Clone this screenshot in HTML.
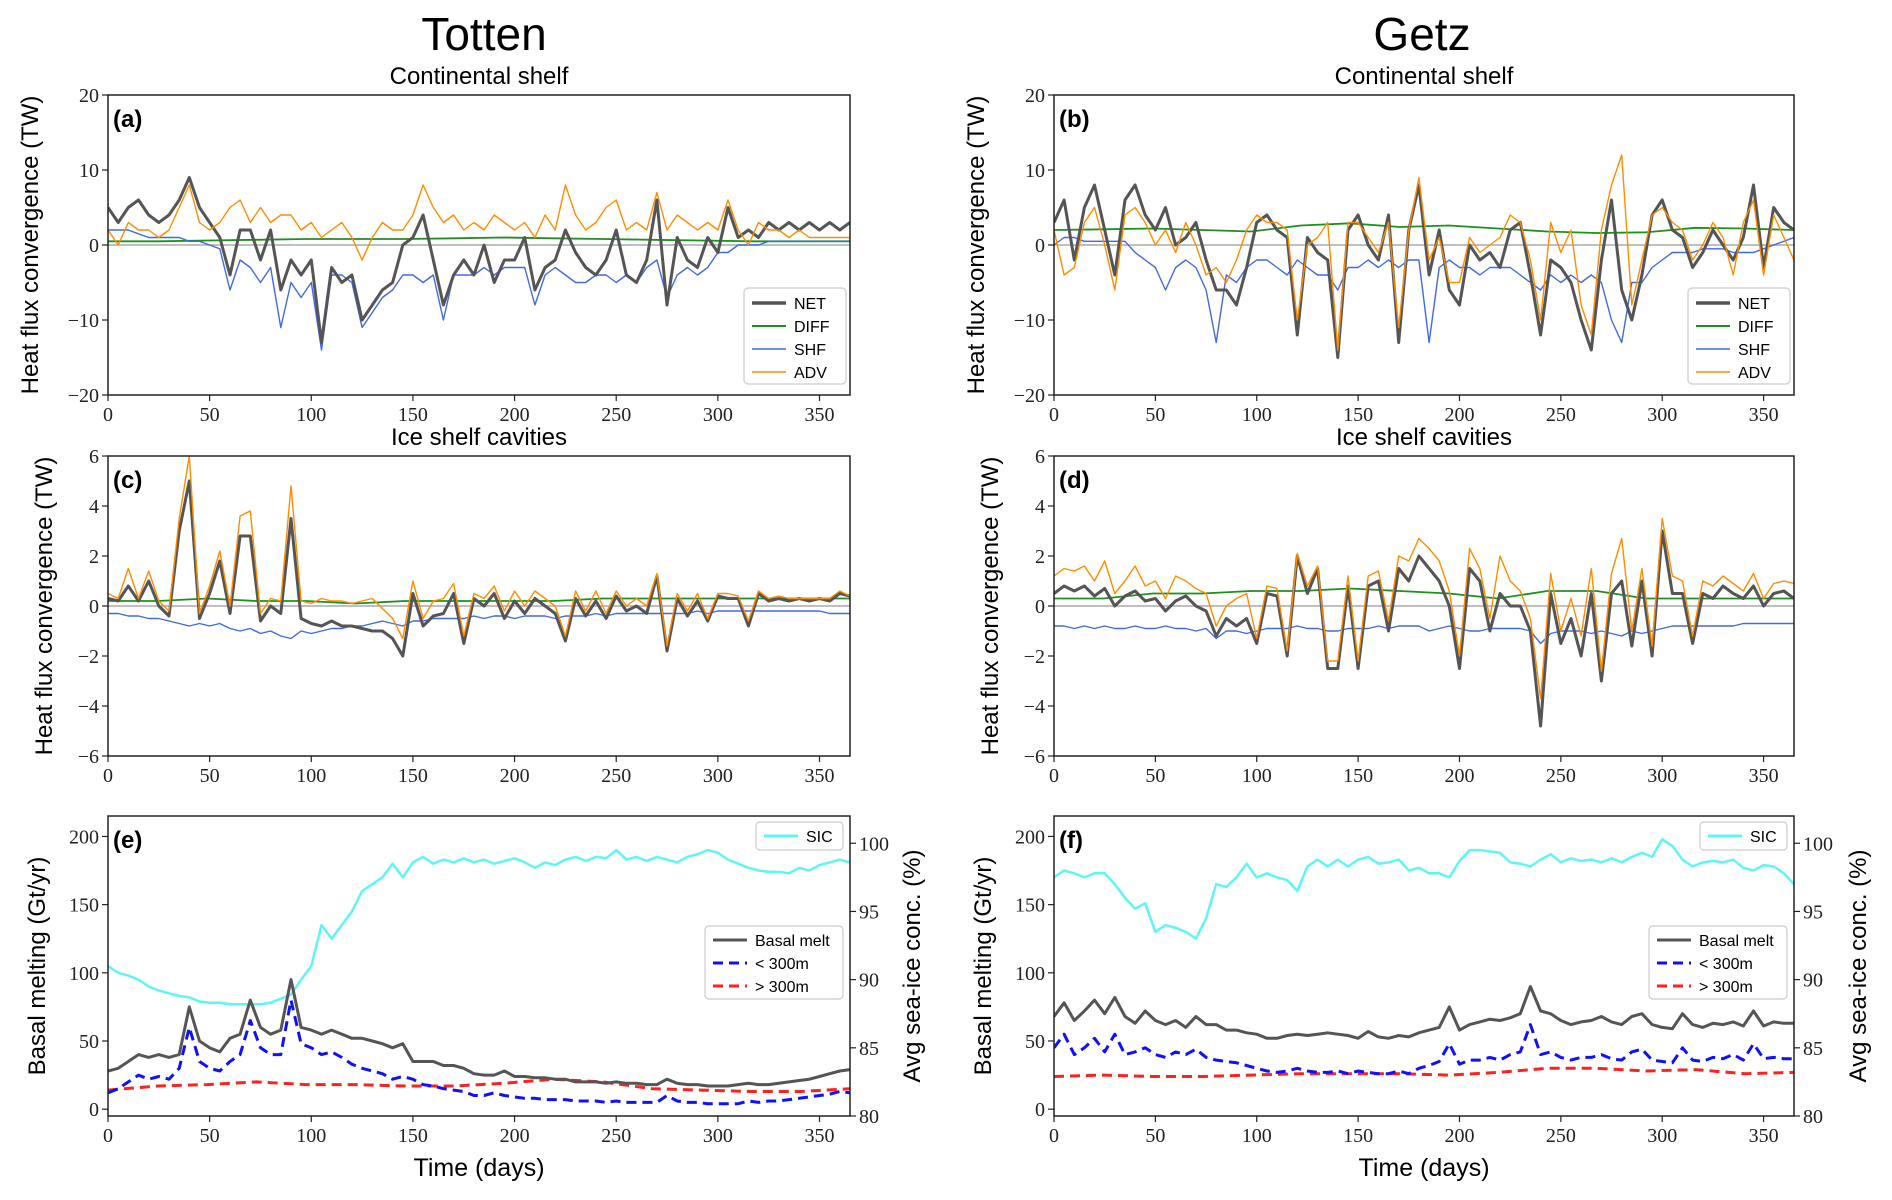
<!DOCTYPE html>
<html><head><meta charset="utf-8"><style>
html,body{margin:0;padding:0;background:#fff;}
svg{display:block;}
.tk{font-family:"Liberation Serif",serif;font-size:20px;fill:#222;}
.ttl{font-family:"Liberation Sans",sans-serif;fill:#000;}
</style></head><body>
<svg id="fig" width="1892" height="1200" viewBox="0 0 1892 1200" xmlns="http://www.w3.org/2000/svg">
<text x="484" y="50" text-anchor="middle" class="ttl" font-size="46">Totten</text>
<text x="1422" y="50" text-anchor="middle" class="ttl" font-size="46">Getz</text>
<text x="479" y="84" text-anchor="middle" class="ttl" font-size="24">Continental shelf</text>
<text x="1424" y="84" text-anchor="middle" class="ttl" font-size="24">Continental shelf</text>
<text x="479" y="445" text-anchor="middle" class="ttl" font-size="24">Ice shelf cavities</text>
<text x="1424" y="445" text-anchor="middle" class="ttl" font-size="24">Ice shelf cavities</text>
<text x="479" y="1176" text-anchor="middle" class="ttl" font-size="25" font-family="Liberation Serif">Time (days)</text>
<text x="1424" y="1176" text-anchor="middle" class="ttl" font-size="25" font-family="Liberation Serif">Time (days)</text>
</svg>
<script>
// ---- data (values at equally spaced days 0..365) ----
const xTicks = [0,50,100,150,200,250,300,350];
const shelfTicks = [-20,-10,0,10,20];
const cavTicks = [-6,-4,-2,0,2,4,6];
const meltTicks = [0,50,100,150,200];
const sicTicks = [80,85,90,95,100];

const aNET = [5,3,5,6,4,3,4,6,9,5,3,1,-4,2,2,-2,2,-6,-2,-4,-2,-13,-3,-5,-4,-10,-8,-6,-5,0,1,4,-2,-8,-4,-2,-4,0,-5,-2,-2,1,-6,-3,-2,2,-1,-3,-4,-2,2,-4,-5,-2,6,-8,1,-2,-3,1,-1,5,1,2,1,3,2,3,2,3,2,3,2,3];
const aSHF = [2,2,2,1.5,1,1,1,1,0.5,0.5,0,-0.5,-6,-2,-3,-5,-3,-11,-5,-7,-5,-14,-4,-4,-5,-11,-9,-7,-6,-4,-4,-5,-4,-10,-4,-4,-4,-3,-4,-3,-3,-3,-8,-4,-3,-4,-5,-5,-4,-4,-5,-4,-5,-3,-2,-7,-4,-3,-4,-3,-1,-1,0,0,0,0.5,0.5,0.5,0.5,0.5,0.5,0.5,0.5,0.5];
const aADV = [2,0,3,2,2,1,2,5,8,3,2,3,5,6,3,5,3,4,4,2,3,1,2,3,1,-2,1,3,2,2,4,8,5,3,4,2,3,2,4,3,2,3,1,4,2,8,4,2,3,5,6,2,3,2,7,2,4,3,2,3,2,6,2,0,3,2,2,1,2,1,1,1,1,1];
const aDIFF = [0.5,0.5,0.6,0.7,0.8,0.8,0.8,0.9,1,0.9,0.8,0.7,0.6,0.5,0.5,0.5];

const bNET = [3,6,-2,5,8,2,-4,6,8,4,2,5,0,1,3,-2,-6,-6,-8,-3,3,4,2,1,-12,1,-1,-2,-15,2,4,0,-2,4,-13,2,8,-4,2,-6,-8,0,-2,-1,-3,2,3,-4,-12,-2,-3,-5,-10,-14,-2,6,-6,-10,-4,4,6,2,1,-3,-1,2,0,-2,1,8,-3,5,3,2];
const bADV = [2,-4,-3,3,5,0,-6,4,5,3,0,2,-1,3,0,-4,-3,-5,-2,2,4,3,3,2,-10,0,1,3,-14,3,3,1,-1,3,-11,2,9,-2,1,-5,-5,1,-1,0,1,4,3,-2,-10,3,-1,2,-8,-12,2,8,12,-8,-2,4,5,3,2,-2,0,3,1,-4,3,6,-4,4,1,-2];
const bSHF = [0,1,1,0.5,0.5,0.5,0.5,0.5,-1,-2,-3,-6,-3,-2,-3,-6,-13,-4,-5,-3,-2,-2,-3,-4,-2,-3,-4,-4,-6,-3,-3,-2,-3,-2,-3,-2,-2,-13,-3,-2,-3,-3,-4,-3,-3,-3,-4,-5,-6,-4,-5,-4,-5,-4,-5,-10,-13,-5,-5,-3,-2,-1,-1,-1,-0.5,-0.5,-0.5,-1,-1,-1,-0.5,0,0.5,1];
const bDIFF = [2,2.1,2.2,2.0,1.8,2.6,2.9,2.4,2.6,2.2,1.8,1.6,1.7,2.3,2.2,2.0];

const cNET = [0.3,0.2,0.8,0.2,1,0,-0.4,3,5,-0.5,0.5,1.8,-0.3,2.8,2.8,-0.6,0,-0.3,3.5,-0.5,-0.7,-0.8,-0.6,-0.8,-0.8,-0.9,-1,-1,-1.3,-2,0.5,-0.8,-0.4,-0.3,0.5,-1.5,0.3,0,0.5,-0.5,0.2,-0.3,0.3,0,-0.3,-1.4,0.3,-0.4,0.2,-0.5,0.4,-0.2,0,-0.3,1.2,-1.8,0.3,-0.4,0.2,-0.6,0.4,0.3,0.3,-0.8,0.5,0.2,0.3,0.2,0.3,0.2,0.3,0.2,0.5,0.4];
const cADV = [0.5,0.3,1.5,0.3,1.4,0.2,-0.2,3.5,6,-0.3,0.8,2.2,0,3.6,3.8,-0.3,0.3,0.2,4.8,0.2,0.1,0.3,0.2,0.2,0.1,0.2,0.3,-0.1,-0.5,-1.3,1,-0.5,0.2,0.3,0.9,-1.2,0.5,0.3,0.8,-0.2,0.6,0,0.6,0.3,0,-1.2,0.6,-0.2,0.6,-0.3,0.6,0,0.3,0,1.3,-1.6,0.5,-0.2,0.5,-0.5,0.5,0.5,0.4,-0.6,0.6,0.3,0.4,0.3,0.3,0.3,0.3,0.3,0.6,0.4];
const cSHF = [-0.3,-0.3,-0.4,-0.4,-0.5,-0.5,-0.6,-0.7,-0.8,-0.7,-0.8,-0.7,-0.9,-1,-0.9,-1.1,-1,-1.2,-1.3,-1,-1.1,-1,-0.9,-0.9,-0.8,-0.8,-0.7,-0.6,-0.7,-0.8,-0.6,-0.6,-0.5,-0.5,-0.5,-0.5,-0.4,-0.5,-0.4,-0.4,-0.5,-0.4,-0.4,-0.4,-0.5,-0.4,-0.4,-0.4,-0.3,-0.4,-0.3,-0.3,-0.3,-0.3,-0.3,-0.3,-0.3,-0.3,-0.2,-0.3,-0.2,-0.2,-0.2,-0.2,-0.2,-0.2,-0.2,-0.2,-0.2,-0.2,-0.2,-0.3,-0.3,-0.3];
const cDIFF = [0.2,0.2,0.3,0.2,0.2,0.1,0.2,0.2,0.2,0.2,0.3,0.3,0.3,0.3,0.3,0.3];

const dNET = [0.5,0.8,0.6,0.8,0.4,0.7,0,0.4,0.6,0.2,0.3,-0.2,0.2,0.4,0,-0.2,-1.2,-0.5,-0.8,-0.5,-1.5,0.5,0.4,-2,2,0.5,1.5,-2.5,-2.5,0.8,-2.5,0.8,1,-1,1.5,1,2,1.5,1,0,-2.5,1.5,1,-1,0.5,0,0,-1,-4.8,0.5,-1.5,-0.5,-2,0.5,-3,0.5,1,-1.6,1,-2,3,0.5,0.5,-1.5,0.5,0.3,0.8,0.5,0.3,0.8,0,0.5,0.6,0.3];
const dADV = [1.2,1.5,1.4,1.6,1,1.8,0.5,1,1.6,0.8,1,0.3,1.2,1,0.7,0.5,-0.8,0,0.3,0.5,-1.3,0.8,0.7,-1.8,2.1,0.8,1.6,-2.2,-2.2,1.2,-2.2,1.2,1.4,-0.6,2,1.8,2.7,2.3,1.8,0.6,-2,2.3,1.5,-0.5,2,1,0.6,-0.5,-3.7,1.3,-1,0.3,-1.2,1.5,-2.6,1.3,2.7,-1,1.5,-1.6,3.5,1.2,1,-1.2,1,0.8,1.2,0.9,0.6,1.3,0.3,0.9,1,0.9];
const dSHF = [-0.8,-0.8,-0.9,-0.8,-0.9,-0.8,-0.9,-0.9,-0.8,-0.9,-0.9,-0.8,-0.9,-0.9,-1,-0.9,-1.3,-1,-1,-1.1,-1,-0.9,-0.9,-0.9,-0.8,-0.9,-0.9,-1,-1,-0.9,-0.9,-0.9,-0.8,-0.9,-0.8,-0.8,-0.8,-1,-0.9,-0.8,-0.9,-1,-1,-0.9,-0.9,-0.9,-0.9,-1,-1.5,-1.1,-1,-1,-1,-1.1,-1,-1.1,-1.2,-1,-1.1,-1,-0.9,-0.8,-0.8,-0.8,-0.8,-0.8,-0.8,-0.8,-0.7,-0.7,-0.7,-0.7,-0.7,-0.7];
const dDIFF = [0.3,0.3,0.5,0.5,0.6,0.6,0.7,0.6,0.5,0.3,0.6,0.6,0.3,0.3,0.3,0.3];

const eMelt = [28,30,35,40,38,40,38,40,75,50,45,42,52,55,80,60,55,58,95,60,58,55,58,55,52,52,50,48,45,48,35,35,35,32,32,30,26,25,25,28,24,24,23,23,22,22,20,20,20,19,20,19,19,18,18,22,19,18,18,17,17,17,18,19,18,18,19,20,21,22,24,26,28,29];
const eShallow = [12,15,20,25,22,24,22,30,60,35,30,28,35,40,65,45,40,40,80,48,45,40,42,38,33,30,28,26,22,24,22,18,17,15,14,13,10,10,12,10,9,8,8,7,7,7,6,6,6,5,6,5,5,5,5,10,6,5,5,4,4,4,4,6,5,6,6,7,8,9,10,11,13,12];
const eDeep = [14,17,18,20,18,18,17,17,19,22,20,15,14,13,13,15];
const eSIC = [91,90.5,90.3,90,89.5,89.2,89,88.8,88.7,88.4,88.3,88.3,88.2,88.2,88.2,88.2,88.3,88.6,88.9,90,91,94,93,94,95,96.5,97,97.5,98.5,97.5,98.6,99,98.5,98.8,98.6,98.9,98.6,98.8,98.5,98.7,98.9,98.6,98.2,98.6,98.4,98.8,99,98.7,99,98.9,99.5,98.8,99,98.7,99,98.8,98.6,99,99.2,99.5,99.3,98.8,98.5,98.2,98,97.9,97.9,97.8,98.2,98,98.4,98.6,98.8,98.6];

const fMelt = [68,78,65,72,80,70,82,68,63,72,65,62,65,60,68,62,62,58,58,56,55,52,52,54,55,54,55,56,55,54,52,57,53,52,54,53,56,58,60,75,58,62,64,66,65,67,70,90,72,70,65,62,64,65,68,64,62,68,70,62,60,59,70,62,60,63,62,64,61,72,61,64,63,63];
const fShallow = [45,55,40,45,52,42,55,40,42,45,40,38,42,40,44,38,36,35,34,32,30,28,27,28,30,28,27,27,28,26,28,27,26,26,28,26,30,32,35,48,33,36,36,38,36,40,42,62,40,42,38,36,38,38,40,37,36,42,44,36,35,34,45,36,35,38,37,40,36,48,37,38,37,37];
const fDeep = [24,25,24,24,25,26,26,26,25,27,30,30,28,29,26,27];
const fSIC = [97.5,98,97.8,97.5,97.8,97.8,97,96,95.2,95.6,93.5,94,93.8,93.5,93,94.5,97,96.8,97.5,98.5,97.5,97.8,97.5,97.3,96.5,98.3,98.8,98.3,98.8,98.3,98.8,99,98.5,98.6,98.8,98,98.2,97.8,97.8,97.5,98.7,99.5,99.5,99.4,99.3,98.6,98.5,98.3,98.8,99.2,98.6,98.9,98.7,98.8,98.6,98.9,98.6,99,99.3,99,100.3,99.8,98.8,98.3,98.6,98.7,98.6,98.8,98.2,98,98.4,98.3,97.8,97];

// ---- drawing ----
const NS = 'http://www.w3.org/2000/svg';
const svg = document.getElementById('fig');
function mk(tag, attrs, parent){ const e=document.createElementNS(NS,tag); for(const k in attrs) e.setAttribute(k,attrs[k]); (parent||svg).appendChild(e); return e; }
function txt(s, attrs, parent){ const e=mk('text',attrs,parent); e.textContent=s; return e; }

function panel(cfg){
  const {x0,x1,y0,y1,ymin,ymax,id} = cfg;
  const g = mk('g',{});
  
  
  const xs = d => x0 + d/365*(x1-x0);
  const ys = v => y1 - (v-ymin)/(ymax-ymin)*(y1-y0);
  const clipId='clip-'+id;
  const cp=mk('clipPath',{id:clipId},g); mk('rect',{x:x0,y:y0,width:x1-x0,height:y1-y0},cp);
  if(cfg.zero){ const z=mk('line',{x1:x0,x2:x1,y1:ys(0),y2:ys(0),stroke:'#aaa','stroke-width':1.5},g);
      }
  const draw = (arr, color, w, dash, name, scale) => {
    const yf = scale || ys;
    const pts = arr.map((v,i)=> xs(i*365/(arr.length-1)).toFixed(1)+','+yf(v).toFixed(1)).join(' ');
    const p = mk('polyline',{points:pts,fill:'none',stroke:color,'stroke-width':w,'stroke-linejoin':'round','clip-path':'url(#'+clipId+')'},g);
    if(dash) p.setAttribute('stroke-dasharray',dash);
    
    
  };
  cfg.series.forEach(s=>draw(s.data,s.color,s.w,s.dash,s.name,s.right?(v=>y1-(v-cfg.rmin)/(cfg.rmax-cfg.rmin)*(y1-y0)):null));
  // frame
  const fr=mk('rect',{x:x0,y:y0,width:x1-x0,height:y1-y0,fill:'none',stroke:'#222','stroke-width':1.5},g);
   
  xTicks.forEach(t=>{ mk('line',{x1:xs(t),x2:xs(t),y1:y1,y2:y1+6,stroke:'#222','stroke-width':1.2},g);
    const l=txt(String(t),{x:xs(t),y:y1+26,'text-anchor':'middle',class:'tk'},g);
      });
  cfg.yTicks.forEach(t=>{ mk('line',{x1:x0-6,x2:x0,y1:ys(t),y2:ys(t),stroke:'#222','stroke-width':1.2},g);
    const l=txt(t<0?'\u2212'+(-t):String(t),{x:x0-9,y:ys(t)+7,'text-anchor':'end',class:'tk'},g);
      });
  if(cfg.rTicks){ const rs=v=>y1-(v-cfg.rmin)/(cfg.rmax-cfg.rmin)*(y1-y0);
    cfg.rTicks.forEach(t=>{ mk('line',{x1:x1,x2:x1+6,y1:rs(t),y2:rs(t),stroke:'#222','stroke-width':1.2},g);
      const l=txt(String(t),{x:x1+9,y:rs(t)+7,'text-anchor':'start',class:'tk'},g);
        }); }
  const pl=txt('('+id+')',{x:x0+5,y:y0+32,'font-family':'Liberation Sans,sans-serif','font-size':24,'font-weight':'bold'},g);
   
  const yl=txt(cfg.ylabel,{x:0,y:0,transform:'translate('+cfg.ylx+','+((y0+y1)/2)+') rotate(-90)','text-anchor':'middle','font-family':'Liberation Sans,sans-serif','font-size':24},g);
   
  if(cfg.rlabel){ const rl=txt(cfg.rlabel,{x:0,y:0,transform:'translate('+cfg.rlx+','+((y0+y1)/2)+') rotate(-90)','text-anchor':'middle','font-family':'Liberation Sans,sans-serif','font-size':24},g);
      }
  // legends
  (cfg.legends||[]).forEach(L=>{
    const lg=mk('g',{},g);
     
    mk('rect',{x:L.x,y:L.y,width:L.w,height:L.h,rx:4,fill:'#fff','fill-opacity':0.85,stroke:'#ccc','stroke-width':1.2},lg);
    L.items.forEach((it,i)=>{ const yy=L.y+L.first+i*L.gap;
      const ln=mk('line',{x1:L.x+8,x2:L.x+42,y1:yy,y2:yy,stroke:it.color,'stroke-width':it.w},lg);
      if(it.dash) ln.setAttribute('stroke-dasharray',it.dash);
      const t=txt(it.label,{x:L.x+50,y:yy+6,'font-family':'Liberation Sans,sans-serif','font-size':16},lg);
        });
  });
}

const NETc='#555', DIFFc='#1f8f1f', SHFc='#4169e1', ADVc='#ff8c00';
const shelfLeg = (x)=>({x:x,y:288,w:102,h:96,first:15,gap:23,items:[
  {label:'NET',color:NETc,w:3.5},{label:'DIFF',color:DIFFc,w:2},{label:'SHF',color:SHFc,w:1.5},{label:'ADV',color:ADVc,w:1.5}]});
const fluxSeries = (N,D,S,A)=>[
  {data:D,color:DIFFc,w:1.8,name:'diff-line'},{data:S,color:SHFc,w:1.4,name:'shf-line'},
  {data:N,color:NETc,w:3,name:'net-line'},{data:A,color:ADVc,w:1.4,name:'adv-line'}];
const L=[108,850], R=[1054,1794];
panel({id:'a',x0:L[0],x1:L[1],y0:95,y1:395,ymin:-20,ymax:20,zero:true,yTicks:shelfTicks,ylabel:'Heat flux convergence (TW)',ylx:38,series:fluxSeries(aNET,aDIFF,aSHF,aADV),legends:[shelfLeg(744)]});
panel({id:'b',x0:R[0],x1:R[1],y0:95,y1:395,ymin:-20,ymax:20,zero:true,yTicks:shelfTicks,ylabel:'Heat flux convergence (TW)',ylx:984,series:fluxSeries(bNET,bDIFF,bSHF,bADV),legends:[shelfLeg(1688)]});
panel({id:'c',x0:L[0],x1:L[1],y0:456,y1:756,ymin:-6,ymax:6,zero:true,yTicks:cavTicks,ylabel:'Heat flux convergence (TW)',ylx:52,series:fluxSeries(cNET,cDIFF,cSHF,cADV)});
panel({id:'d',x0:R[0],x1:R[1],y0:456,y1:756,ymin:-6,ymax:6,zero:true,yTicks:cavTicks,ylabel:'Heat flux convergence (TW)',ylx:998,series:fluxSeries(dNET,dDIFF,dSHF,dADV)});
const meltSeries=(S,M,Sh,D)=>[
  {data:S,color:'#5ff5f5',w:2.5,name:'sic-line',right:true},
  {data:D,color:'#ff2020',w:3,dash:'10,6',name:'deep-melt-line'},
  {data:Sh,color:'#1010ff',w:3,dash:'10,6',name:'shallow-melt-line'},
  {data:M,color:NETc,w:3,name:'basal-melt-line'}];
const meltLegs=(x1)=>[
  {x:x1-87,y:822,w:87,h:28,first:14,gap:0,items:[{label:'SIC',color:'#5ff5f5',w:3}]},
  {x:x1-138,y:926,w:138,h:73,first:14,gap:23,items:[{label:'Basal melt',color:NETc,w:3},{label:'< 300m',color:'#1010ff',w:3,dash:'10,6'},{label:'> 300m',color:'#ff2020',w:3,dash:'10,6'}]}];
panel({id:'e',x0:L[0],x1:L[1],y0:816,y1:1116,ymin:-5,ymax:215,rmin:80,rmax:102,yTicks:meltTicks,rTicks:sicTicks,ylabel:'Basal melting (Gt/yr)',ylx:45,rlabel:'Avg sea-ice conc. (%)',rlx:920,series:meltSeries(eSIC,eMelt,eShallow,eDeep),legends:meltLegs(843)});
panel({id:'f',x0:R[0],x1:R[1],y0:816,y1:1116,ymin:-5,ymax:215,rmin:80,rmax:102,yTicks:meltTicks,rTicks:sicTicks,ylabel:'Basal melting (Gt/yr)',ylx:991,rlabel:'Avg sea-ice conc. (%)',rlx:1866,series:meltSeries(fSIC,fMelt,fShallow,fDeep),legends:meltLegs(1787)});
</script>
</body></html>
